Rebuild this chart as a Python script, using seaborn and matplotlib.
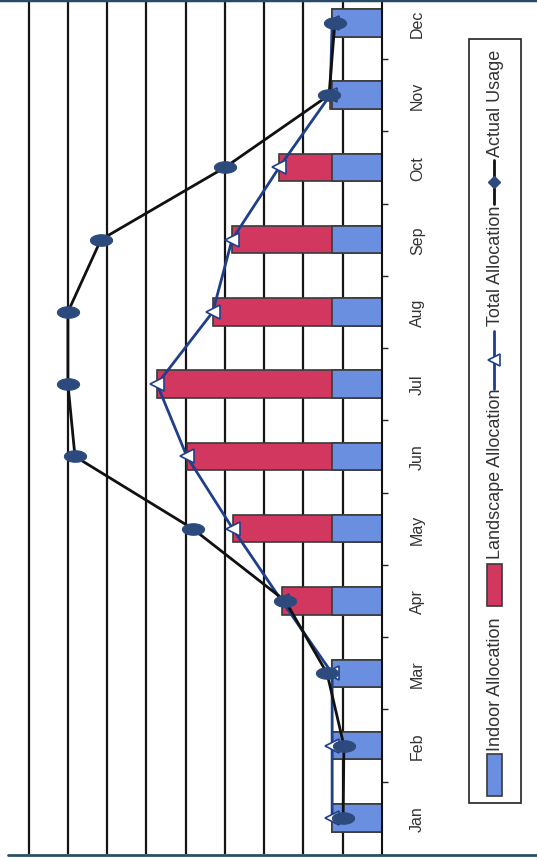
import matplotlib
matplotlib.use("Agg")
import numpy as np
import pandas as pd
import matplotlib.pyplot as plt
import seaborn as sns
from matplotlib.path import Path
from matplotlib.lines import Line2D
from matplotlib.patches import Rectangle
from matplotlib import font_manager

# ── data (one grid step = 1 unit) ──
months = ["Jan", "Feb", "Mar", "Apr", "May", "Jun",
          "Jul", "Aug", "Sep", "Oct", "Nov", "Dec"]
indoor = [1.27, 1.27, 1.27, 1.27, 1.27, 1.27, 1.27, 1.27, 1.27, 1.27, 1.27, 1.27]
landscape = [0.0, 0.0, 0.0, 1.28, 2.53, 3.70, 4.46, 3.04, 2.55, 1.35, 0.05, 0.0]
actual = [0.99, 0.97, 1.40, 2.46, 4.82, 7.82, 8.0, 8.0, 7.16, 4.0, 1.35, 1.20]
legend_labels = ["Indoor Allocation", "Landscape Allocation",
                 "Total Allocation", "Actual Usage"]

RED = "#d2375f"
BLUE = "#6b8fe0"
EDGE = "#3a3a3a"
NAVY = "#1f3f8a"
DOT = "#2c4a7c"
TXT = "#333333"

df = pd.DataFrame({
    "month": months,
    "pos": np.arange(len(months)),
    "indoor": indoor,
    "total": [i + l for i, l in zip(indoor, landscape)],
    "actual": actual,
})

sns.set_style("white")
names = {f.name for f in font_manager.fontManager.ttflist}
font = "Liberation Sans Narrow" if "Liberation Sans Narrow" in names else "Liberation Sans"
plt.rcParams["font.family"] = [font, "DejaVu Sans"]

W, H = 537, 862
fig = plt.figure(figsize=(W / 100, H / 100), dpi=100)
ax = fig.add_axes([0, 7 / H, 382 / W, 855 / H])

# stacked bars: total (landscape colour) underneath, indoor on top
sns.barplot(data=df, x="total", y="pos", orient="y", native_scale=True,
            color=RED, saturation=1, width=0.38, edgecolor=EDGE,
            linewidth=1.2, errorbar=None, ax=ax, zorder=2)
sns.barplot(data=df, x="indoor", y="pos", orient="y", native_scale=True,
            color=BLUE, saturation=1, width=0.38, edgecolor=EDGE,
            linewidth=1.2, errorbar=None, ax=ax, zorder=2)

# elliptical marker for actual usage
t = np.linspace(0, 2 * np.pi, 40)
ellipse = Path(np.column_stack([np.cos(t), 0.52 * np.sin(t)]), closed=True)

sns.lineplot(data=df, x="total", y="pos", sort=False, estimator=None,
             color=NAVY, lw=2, marker="<", ms=10, mfc="white", mec=NAVY,
             mew=1.2, ax=ax, zorder=4)
sns.lineplot(data=df, x="actual", y="pos", sort=False, estimator=None,
             color="#111111", lw=2, marker=ellipse, ms=16, mfc=DOT, mec=DOT,
             ax=ax, zorder=5)

ax.set_xlim(9.73, 0)
ax.set_ylim(-0.5, 11.33)
ax.set_xticks(range(1, 10))
ax.tick_params(axis="x", length=0, labelbottom=False)
ax.grid(axis="x", color="#151515", lw=1.6)
ax.grid(axis="y", visible=False)
ax.set_axisbelow(True)

ax.yaxis.tick_right()
ax.set_yticks(df["pos"])
ax.set_yticklabels(months, rotation=90, va="center", ha="left",
                   fontsize=11.5, color=TXT)
ax.set_yticks(df["pos"][:-1] + 0.5, minor=True)
ax.tick_params(axis="y", which="major", length=0, pad=20)
ax.tick_params(axis="y", which="minor", length=4.5, width=1, color="#222222",
               direction="out")
ax.set_xlabel("")
ax.set_ylabel("")
for side in ["left", "top", "bottom"]:
    ax.spines[side].set_visible(False)
ax.spines["right"].set_color("#111111")
ax.spines["right"].set_linewidth(1.5)


def fx(px):
    return px / W


def fy(py):
    return (H - py) / H


# frame lines of the scanned chart
fig.add_artist(Line2D([fx(0), fx(W)], [fy(1), fy(1)], color="#2a4a6a", lw=2.5))
fig.add_artist(Line2D([fx(8), fx(W)], [fy(856), fy(856)], color="#2c5060", lw=2))

# ── rotated legend ──
fig.add_artist(Rectangle((fx(469), fy(804)), fx(521) - fx(469), fy(40) - fy(804),
                         transform=fig.transFigure, fill=False,
                         edgecolor="#222222", lw=1.2))
fig.add_artist(Rectangle((fx(487), fy(797)), fx(502) - fx(487), fy(755) - fy(797),
                         transform=fig.transFigure, facecolor=BLUE,
                         edgecolor=EDGE, lw=1.2))
fig.add_artist(Rectangle((fx(487), fy(607)), fx(502) - fx(487), fy(565) - fy(607),
                         transform=fig.transFigure, facecolor=RED,
                         edgecolor=EDGE, lw=1.2))
fig.add_artist(Line2D([fx(494), fx(494)], [fy(390), fy(332)], color=NAVY, lw=2))
fig.add_artist(Line2D([fx(494)], [fy(361)], lw=0, marker="<", ms=9,
                      mfc="white", mec=NAVY, mew=1.2))
fig.add_artist(Line2D([fx(494), fx(494)], [fy(205), fy(161)], color="#111111", lw=2))
fig.add_artist(Line2D([fx(494)], [fy(183)], lw=0, marker="D", ms=6,
                      mfc=DOT, mec=DOT))

text_spots = [(751, legend_labels[0]), (559, legend_labels[1]),
              (326, legend_labels[2]), (157, legend_labels[3])]
for py, label in text_spots:
    fig.text(fx(495), fy(py), label, rotation=90, ha="center", va="bottom",
             fontsize=13, color=TXT)

fig.savefig("out.png", dpi=100)
